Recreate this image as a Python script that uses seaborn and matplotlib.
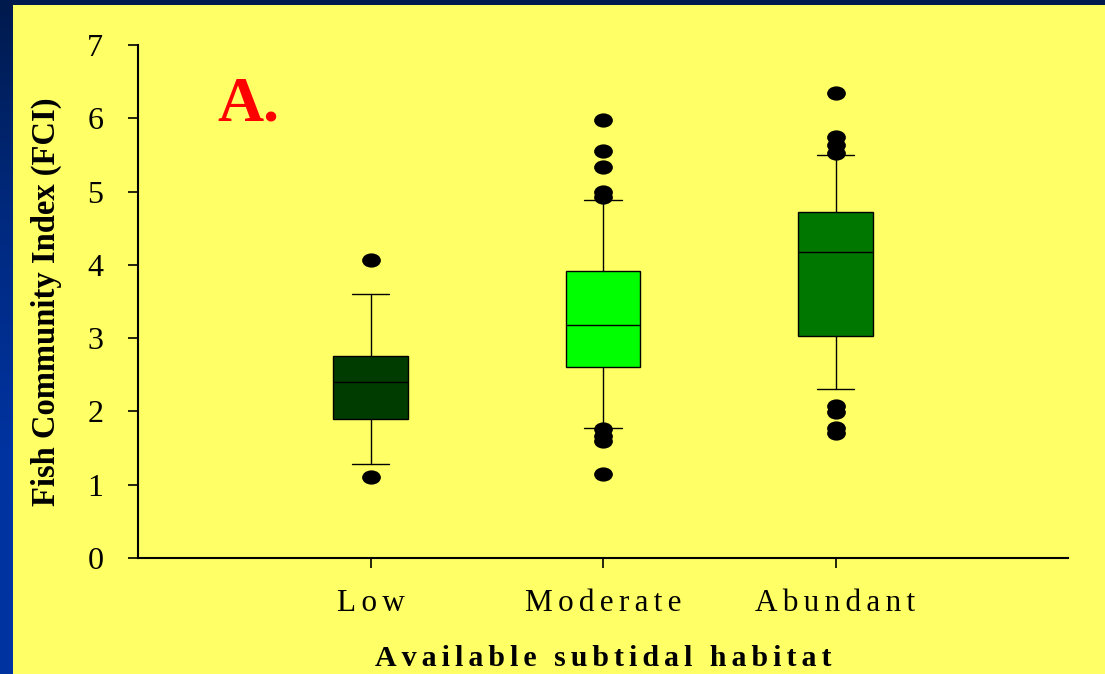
import numpy as np
import matplotlib
matplotlib.use("Agg")
import matplotlib.pyplot as plt
from matplotlib.patches import Rectangle
from matplotlib.path import Path
from matplotlib.colors import LinearSegmentedColormap
import seaborn as sns

# Habitat categories and box summaries (10th/25th/50th/75th/90th percentiles)
categories = ["Low", "Moderate", "Abundant"]
p10 = [1.28, 1.78, 2.30]
q1 = [1.89, 2.60, 3.03]
median = [2.40, 3.18, 4.17]
q3 = [2.75, 3.91, 4.72]
p90 = [3.60, 4.88, 5.50]
box_colors = ["#003C00", "#00FF00", "#007800"]

# Points beyond the whiskers
low_out = [4.06, 1.10]
moderate_out = [5.98, 5.55, 5.34, 4.99, 4.92, 1.76, 1.67, 1.60, 1.14]
abundant_out = [6.34, 5.75, 5.64, 5.53, 2.07, 1.99, 1.78, 1.71]

y_ticks = [0, 1, 2, 3, 4, 5, 6, 7]

sns.set_theme(style="ticks")
plt.rcParams["font.family"] = ["Liberation Serif", "DejaVu Serif"]
plt.rcParams.update({"text.color": "black", "axes.labelcolor": "black",
                     "xtick.color": "black", "ytick.color": "black",
                     "axes.edgecolor": "black"})

W, H = 1105, 674
fig = plt.figure(figsize=(W / 100, H / 100), dpi=100)

# Slide background: navy frame with a vertical gradient, yellow panel on top
bg = fig.add_axes([0, 0, 1, 1], zorder=-10)
grad = np.linspace(0, 1, 256).reshape(-1, 1)
cmap = LinearSegmentedColormap.from_list("frame", ["#001A4D", "#002A80", "#0033A0", "#0033A0"])
bg.imshow(grad, aspect="auto", cmap=cmap, extent=[0, 1, 0, 1], origin="upper")
bg.set_axis_off()
fig.patches.append(Rectangle((13 / W, 0), 1, (H - 5) / H, transform=fig.transFigure,
                             facecolor="#FFFF66", edgecolor="none", zorder=-5))

ax = fig.add_axes([138 / W, 1 - 558 / H, 930 / W, 513 / H], zorder=0)
ax.set_facecolor("none")

stats = []
for i, c in enumerate(categories):
    stats.append(dict(label=c, whislo=p10[i], q1=q1[i], med=median[i],
                      q3=q3[i], whishi=p90[i], fliers=[]))

bp = ax.bxp(stats, positions=[0, 1, 2], widths=0.32, capwidths=0.16,
            showfliers=False, patch_artist=True,
            boxprops=dict(edgecolor="black", linewidth=1.0),
            medianprops=dict(color="black", linewidth=1.0),
            whiskerprops=dict(color="black", linewidth=1.0),
            capprops=dict(color="black", linewidth=1.0))
for patch, col in zip(bp["boxes"], box_colors):
    patch.set_facecolor(col)

# Elliptical outlier marker
circ = Path.unit_circle()
ellipse = Path(circ.vertices * np.array([1.0, 0.76]), circ.codes)

out_x = ["Low"] * len(low_out) + ["Moderate"] * len(moderate_out) + ["Abundant"] * len(abundant_out)
out_y = low_out + moderate_out + abundant_out
sns.stripplot(x=out_x, y=out_y, order=categories, jitter=False, color="black",
              marker=ellipse, size=13.5, linewidth=0, ax=ax, zorder=5)

sp = "\u200a\u200a"
ax.set_xlim(-1, 3)
ax.set_ylim(0, 7)
ax.set_yticks(y_ticks)
ax.set_yticklabels([str(t) for t in y_ticks], fontsize=23)
ax.set_xticks([0, 1, 2])
ax.set_xticklabels([sp.join(c) for c in categories], fontsize=22.5)
ax.tick_params(axis="both", direction="out", length=7, width=1.2, color="black",
               labelcolor="black")
ax.tick_params(axis="y", pad=18)
ax.tick_params(axis="x", pad=15)
for s in ["top", "right"]:
    ax.spines[s].set_visible(False)
for s in ["left", "bottom"]:
    ax.spines[s].set_color("black")
    ax.spines[s].set_linewidth(1.5)

ax.set_xlabel(sp.join("Available subtidal habitat"), fontsize=21.5,
              fontweight="bold", labelpad=20, color="black")
ax.set_ylabel("Fish Community Index (FCI)", fontsize=23.5, fontweight="bold",
              labelpad=18, color="black")

ax.text(0.085, 0.852, "A.", transform=ax.transAxes, color="#FF0000",
        fontsize=46, fontweight="bold", va="baseline", ha="left")

fig.savefig("out.png", dpi=100)
